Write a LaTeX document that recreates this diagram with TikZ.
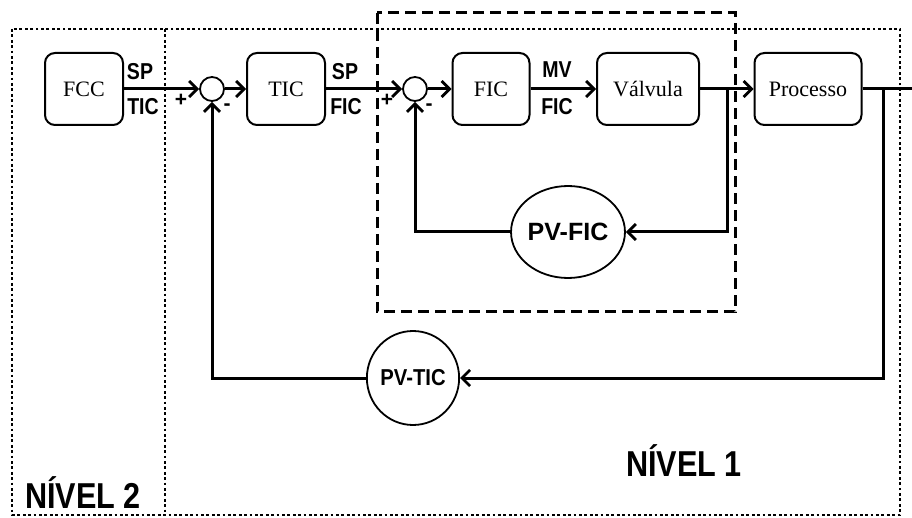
\documentclass[tikz,border=0pt]{standalone}
\usepackage{fontspec}
\setmainfont{Liberation Serif}
\newfontfamily\lsans{Liberation Sans}
\usetikzlibrary{arrows.meta,shapes.geometric}
\begin{document}
\begin{tikzpicture}[x=1pt,y=-1pt,
  blk/.style={draw,line width=2pt,rounded corners=10pt,minimum height=72pt,inner sep=0pt,font=\fontsize{22}{22}\selectfont},
  sumj/.style={draw,circle,line width=1.8pt,minimum size=24pt,inner sep=0pt},
  pvnode/.style={draw,ellipse,line width=1.8pt,inner sep=0pt},
  sig/.style={line width=3pt,-{Straight Barb[length=8pt,width=16pt,line width=2.8pt]}},
  lab/.style={font=\lsans\bfseries\fontsize{23}{23}\selectfont,xscale=0.85,inner sep=0pt},
  sgn/.style={font=\lsans\bfseries\fontsize{21}{21}\selectfont,inner sep=0pt},
  dotbox/.style={line width=2.8pt,dash pattern=on 2.8pt off 2.6pt},
  dashbox/.style={line width=3pt,dash pattern=on 11pt off 6pt},
  lvl/.style={font=\lsans\bfseries\fontsize{36}{36}\selectfont,xscale=0.85,inner sep=0pt}
]
\useasboundingbox (0,0) rectangle (912,518);
\clip (0,0) rectangle (912,518);
\fill[white] (0,0) rectangle (912,518);

% level frames
\draw[dotbox] (12,29) rectangle (900,515);
\draw[dotbox] (165,29) -- (165,515);
\draw[dashbox] (377,13) rectangle (735,312);

% blocks
\node[blk,minimum width=78pt] (fcc) at (84,89) {FCC};
\node[blk,minimum width=78pt] (tic) at (286,89) {TIC};
\node[blk,minimum width=77pt] (fic) at (491,89) {FIC};
\node[blk,minimum width=102pt] (val) at (648,89) {Válvula};
\node[blk,minimum width=107pt] (proc) at (808,89) {Processo};
\node[sumj] (s1) at (212,89) {};
\node[sumj] (s2) at (415,89) {};
\node[pvnode,minimum width=92pt,minimum height=92pt,font=\lsans\bfseries\fontsize{25}{25}\selectfont] (pvfic) at (568,232) {PV-FIC};
\node[pvnode,minimum width=88pt,minimum height=94pt,font=\lsans\bfseries\fontsize{23}{23}\selectfont] (pvtic) at (413,378) {\scalebox{0.88}[1]{PV-TIC}};

\coordinate (b1) at (727,89);
\coordinate (b2) at (883,89);
\coordinate (outp) at (928,89);

% forward path
\draw[sig] (fcc) -- (s1);
\draw[sig] (s1) -- (tic);
\draw[sig] (tic) -- (s2);
\draw[sig] (s2) -- (fic);
\draw[sig] (fic) -- (val);
\draw[sig] (val) -- (proc);
\draw[sig] (proc) -- (outp);

% inner feedback
\draw[sig] (b1) |- (pvfic);
\draw[sig] (pvfic) -| (s2);
% outer feedback
\draw[sig] (b2) |- (pvtic);
\draw[sig] (pvtic) -| (s1);

% labels
\node[lab] (sp1) at (140,72) {SP};
\node[lab] (tic1) at (143,107) {TIC};
\node[lab] (sp2) at (345,72) {SP};
\node[lab] (fic1) at (346,107) {FIC};
\node[lab] (mv) at (557,70) {MV};
\node[lab] (fic2) at (557,107) {FIC};
\node[sgn] (p1) at (181,100) {+};
\node[sgn] (m1) at (227,107) {-};
\node[sgn] (p2) at (387,100) {+};
\node[sgn] (m2) at (429,107) {-};

\node[lvl] (n2) at (83,493) {NÍVEL 2};
\node[lvl] (n1) at (684,461) {NÍVEL 1};
\end{tikzpicture}
\end{document}
